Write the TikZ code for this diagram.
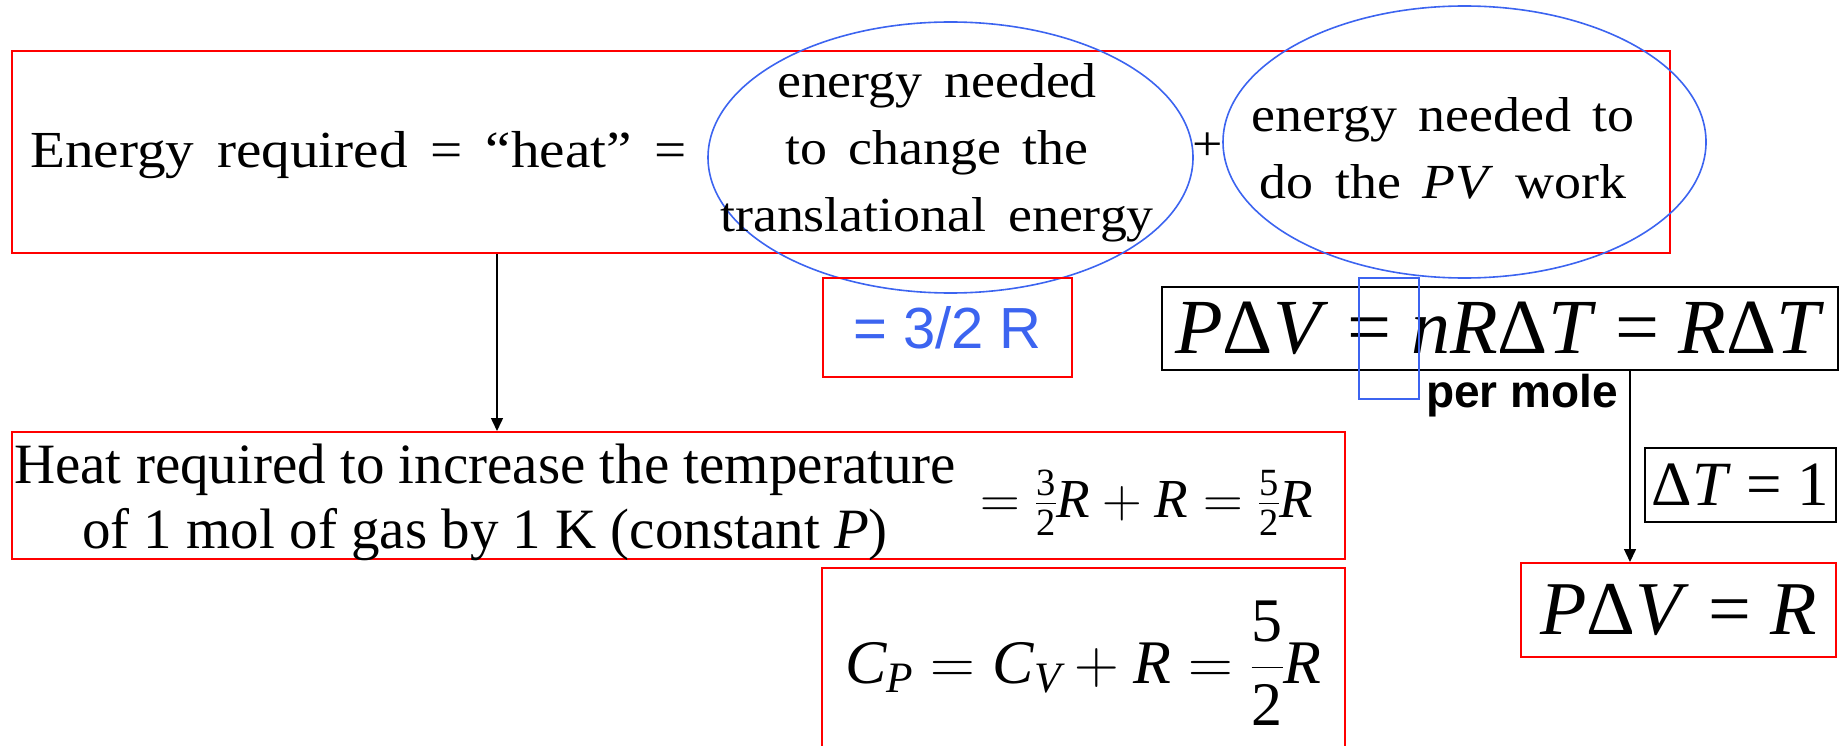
\RequirePackage{fix-cm}
\documentclass[tikz,border=0pt]{standalone}
\usepackage{amsmath}
\usepackage{fontspec}
\setmainfont{Liberation Serif}
\newfontfamily\bookfont[FakeStretch=1.1, WordSpace=1.6]{Liberation Serif}
\newfontfamily\helvfont{Liberation Sans}
\usetikzlibrary{arrows.meta, shapes.geometric}
\definecolor{boxred}{RGB}{255,0,0}
\definecolor{ovalblue}{RGB}{60,100,240}
\newcommand{\vi}[1]{\text{\itshape #1}}

\begin{document}
\begin{tikzpicture}[x=1pt, y=-1pt,
  redbox/.style={draw=boxred, line width=2pt, inner sep=0pt},
  blackbox/.style={draw=black, line width=1.8pt, inner sep=0pt},
  oval/.style={draw=ovalblue, line width=1.6pt, ellipse, inner sep=0pt},
  booktext/.style={font={\bookfont\fontsize{49}{67}\selectfont}, inner sep=0pt},
  link/.style={-{Triangle[length=13pt, width=12pt]}, line width=1.5pt}]
\useasboundingbox (0,0) rectangle (1841,746);

% top line: energy = translational part + PV part
\node[redbox, minimum width=1658pt, minimum height=202pt] (topbox) at (841,152) {};
\node[booktext, font={\bookfont\fontsize{52}{67}\selectfont}, anchor=base west] (energy) at (30,168) {Energy required = “heat” =};
\node[oval, minimum width=485pt, minimum height=271pt] (transoval) at (950.5,157.5) {};
\node[booktext, anchor=base] (transtxt) at (937,98) {\begin{tabular}[t]{@{}c@{}}energy needed\\to change the\\translational energy\end{tabular}};
\node[booktext] (plus) at (1208,147) {+};
\node[oval, minimum width=483pt, minimum height=272pt] (pvoval) at (1464.5,142) {};
\node[booktext, anchor=base] (pvtxt) at (1443,132) {\begin{tabular}[t]{@{}c@{}}energy needed to\\do the \textit{PV} work\end{tabular}};

\node[redbox, text=ovalblue, font={\helvfont\fontsize{58}{60}\selectfont}, minimum width=249pt, minimum height=99pt] (halfbox) at (947.5,327.5) {= 3/2 R};

% work term
\node[blackbox, font={\fontsize{78}{80}\selectfont}, minimum width=676pt, minimum height=83pt] (workbox) at (1500,328.5) {\textit{P}Δ\textit{V} = \textit{nR}Δ\textit{T} = \textit{R}Δ\textit{T}};
\node[draw=ovalblue, line width=1.5pt, inner sep=0pt, minimum width=60pt, minimum height=121pt] (nmark) at (1389,338.5) {};
\node[anchor=base west, inner sep=0pt, font={\helvfont\bfseries\fontsize{46}{48}\selectfont}] (permole) at (1426,407) {per mole};

% heat at constant P
\node[redbox, minimum width=1333pt, minimum height=127pt] (heatbox) at (678.5,495.5) {};
\node[anchor=base, inner sep=0pt, font={\fontsize{57}{65}\selectfont}] (heattxt) at (485,483) {\begin{tabular}[t]{@{}c@{}}Heat required to increase the temperature\\of 1 mol of gas by 1 K (constant \textit{P})\end{tabular}};
\node[anchor=base west, inner sep=0pt, font={\fontsize{55}{57}\selectfont}] (heatsum) at (980,517) {$=\tfrac{\text{3}}{\text{2}}\vi{R}+\vi{R}=\tfrac{\text{5}}{\text{2}}\vi{R}$};
\node[redbox, font={\fontsize{62}{64}\selectfont}, minimum width=523pt, minimum height=190pt] (cpbox) at (1083.5,663) {$\vi{C}_{\vi{P}} = \vi{C}_{\vi{V}} + \vi{R} = \dfrac{\text{5}}{\text{2}}\vi{R}$};

\node[blackbox, line width=1.5pt, font={\fontsize{63}{65}\selectfont}, minimum width=191pt, minimum height=74pt] (dtbox) at (1740.5,485) {Δ\textit{T} = 1};
\node[redbox, font={\fontsize{76}{78}\selectfont}, minimum width=315pt, minimum height=94pt] (unitbox) at (1678.5,610) {\textit{P}Δ\textit{V} = \textit{R}};

\coordinate (dropx) at (497,0);
\coordinate (sidex) at (1630,0);
\draw[link] (topbox.south -| dropx) -- (heatbox.north -| dropx);
\draw[link] (workbox.south -| sidex) -- (unitbox.north -| sidex);
\end{tikzpicture}
\end{document}
